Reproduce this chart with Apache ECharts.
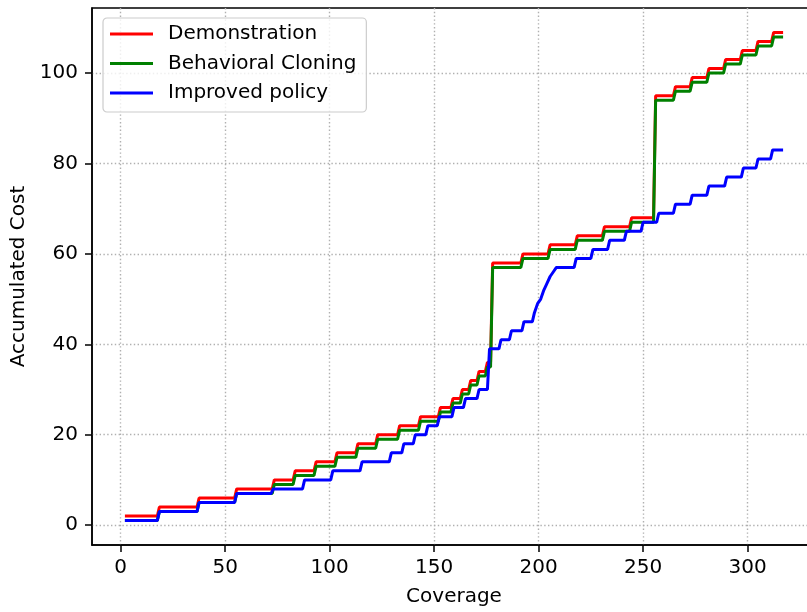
<!DOCTYPE html>
<html>
<head>
<meta charset="utf-8">
<title>Accumulated Cost</title>
<script src="https://cdn.jsdelivr.net/npm/echarts@6.0.0/dist/echarts.min.js"></script>
<style>
  html, body { margin: 0; padding: 0; background: #fff; overflow: hidden; }
  /* a bit wider than the window: the plot's right edge falls outside the picture, as in the original */
  #main { width: 817px; height: 612px; }
</style>
</head>
<body>
<div id="main"></div>
<script>
// data
var seriesNames = ['Demonstration', 'Behavioral Cloning', 'Improved policy'];
var xTicks = [0, 50, 100, 150, 200, 250, 300];
var yTicks = [0, 20, 40, 60, 80, 100];

var xStart = 2;
var xEnd = 317;

// x where each staircase goes up, and the level held after it
var demoSteps = [18, 37, 55, 73, 83, 93, 103, 113, 122.5, 133, 143, 152.5, 158.5, 163, 167, 171, 175,
                 177.5, 192, 205, 218, 231, 244, 255.5, 265, 273, 281, 289, 297, 304.5, 312];
var demoLevels = [2, 4, 6, 8, 10, 12, 14, 16, 18, 20, 22, 24, 26, 28, 30, 32, 34, 36,
                  58, 60, 62, 64, 66, 68, 95, 97, 99, 101, 103, 105, 107, 109];

var bcSteps = [18, 37, 55, 73, 83, 93, 103, 113, 122.5, 133, 143, 152.5, 158.5, 163, 167, 171, 175,
               177.5, 192, 205, 218, 231, 244, 255.5, 265, 273, 281, 289, 297, 304.5, 312];
var bcLevels = [1, 3, 5, 7, 9, 11, 13, 15, 17, 19, 21, 23, 25, 27, 29, 31, 33, 35,
                57, 59, 61, 63, 65, 67, 94, 96, 98, 100, 102, 104, 106, 108];

var impSteps = [18, 37, 55, 72.5, 87.5, 101, 115, 129, 135, 140.5, 146.5, 152, 159, 164.5, 171, 176,
                181.5, 186.5, 192.5, 197.5, 199, 200.5, 202, 203.5, 205, 206.5, 208,
                217.5, 225.5, 233.5, 241.5, 249.5, 257, 265, 273, 281, 289.5, 297.5, 304.5, 311.5];
var impLevels = [1, 3, 5, 7, 8, 10, 12, 14, 16, 18, 20, 22, 24, 26, 28, 30, 39,
                 41, 43, 45, 47, 49, 50, 52, 53.5, 55, 56, 57,
                 59, 61, 63, 65, 67, 69, 71, 73, 75, 77, 79, 81, 83];

// turn steps into line vertices (each rise spans one unit of x)
function stairs(steps, levels) {
    var pts = [[xStart, levels[0]]];
    for (var i = 0; i < steps.length; i++) {
        pts.push([steps[i] - 0.5, levels[i]]);
        pts.push([steps[i] + 0.5, levels[i + 1]]);
    }
    pts.push([xEnd, levels[levels.length - 1]]);
    return pts;
}

var font = 'DejaVu Sans';
var gridLine = { show: true, lineStyle: { color: '#b0b0b0', width: 1.4, type: [1.4, 2.4] } };

function makeSeries(name, color, steps, levels) {
    return {
        name: name,
        type: 'line',
        data: stairs(steps, levels),
        showSymbol: false,
        symbol: 'none',
        lineStyle: { color: color, width: 3 },
        itemStyle: { color: color },
        emphasis: { disabled: true }
    };
}

var myChart = echarts.init(document.getElementById('main'));
var option = {
    animation: false,
    grid: {
        left: 92, right: 1, top: 8, bottom: 67,
        show: true, borderColor: '#000', borderWidth: 1.5
    },
    legend: {
        data: seriesNames,
        orient: 'vertical',
        left: 103, top: 18,
        padding: [6, 10, 9, 7],
        icon: 'rect',
        itemWidth: 43, itemHeight: 3, itemGap: 9.5,
        backgroundColor: 'rgba(255,255,255,0.8)',
        borderColor: '#cccccc', borderWidth: 1.2, borderRadius: 4,
        textStyle: { fontFamily: font, fontSize: 20, color: '#000', lineHeight: 20, padding: [0, 0, 0, 10] }
    },
    xAxis: {
        type: 'value',
        min: -13.75, max: 332.75,
        name: 'Coverage', nameLocation: 'middle', nameGap: 42,
        nameTextStyle: { fontFamily: font, fontSize: 20, color: '#000' },
        axisLine: { show: true, onZero: false, lineStyle: { color: '#000', width: 1.5 } },
        axisTick: { show: true, length: 7, customValues: xTicks, lineStyle: { color: '#000', width: 1.5 } },
        axisLabel: { customValues: xTicks, margin: 13, fontFamily: font, fontSize: 20, color: '#000' },
        splitLine: gridLine
    },
    yAxis: {
        type: 'value',
        min: -4.4, max: 114.4,
        name: 'Accumulated Cost', nameLocation: 'middle', nameGap: 50,
        nameTextStyle: { fontFamily: font, fontSize: 20, color: '#000' },
        axisLine: { show: true, onZero: false, lineStyle: { color: '#000', width: 1.5 } },
        axisTick: { show: true, length: 7, customValues: yTicks, lineStyle: { color: '#000', width: 1.5 } },
        axisLabel: { customValues: yTicks, margin: 14, fontFamily: font, fontSize: 20, color: '#000' },
        splitLine: gridLine
    },
    series: [
        makeSeries(seriesNames[0], '#ff0000', demoSteps, demoLevels),
        makeSeries(seriesNames[1], '#008000', bcSteps, bcLevels),
        makeSeries(seriesNames[2], '#0000ff', impSteps, impLevels)
    ]
};
myChart.setOption(option);
</script>
</body>
</html>
